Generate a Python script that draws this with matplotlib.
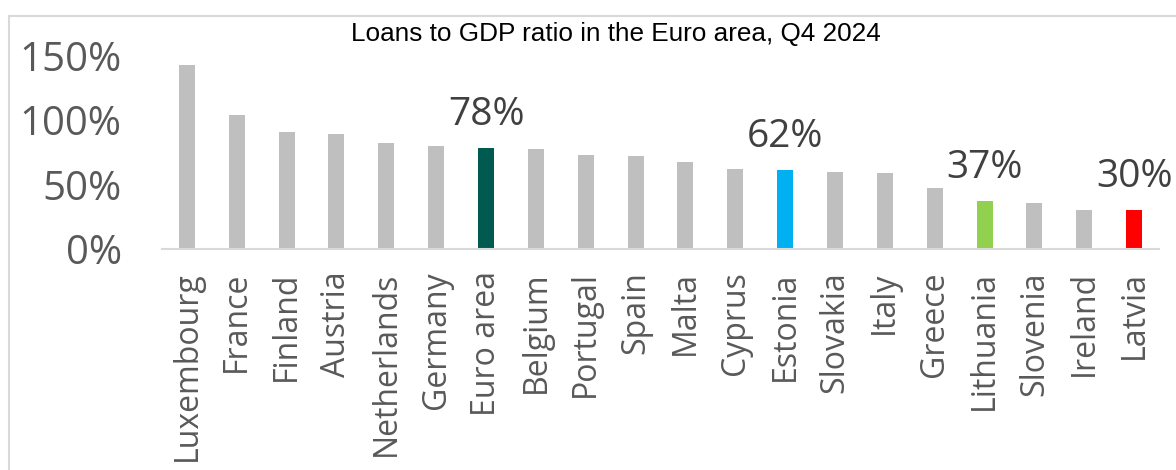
import matplotlib
matplotlib.use("Agg")
import matplotlib.pyplot as plt
from matplotlib.patches import Rectangle
from matplotlib.ticker import FixedLocator, FuncFormatter

countries = ["Luxembourg", "France", "Finland", "Austria", "Netherlands", "Germany",
             "Euro area", "Belgium", "Portugal", "Spain", "Malta", "Cyprus", "Estonia",
             "Slovakia", "Italy", "Greece", "Lithuania", "Slovenia", "Ireland", "Latvia"]
values = [142.5, 103.5, 90.5, 89.0, 82.5, 79.5, 78.0, 77.5, 73.0, 72.0, 67.5, 62.0, 61.5,
          59.8, 59.0, 47.0, 37.0, 35.8, 30.5, 30.0]
highlight = {"Euro area": ("#005a50", "78%"),
             "Estonia": ("#00b0f0", "62%"),
             "Lithuania": ("#92d050", "37%"),
             "Latvia": ("#ff0000", "30%")}
yticks = [0, 50, 100, 150]
title = "Loans to GDP ratio in the Euro area, Q4 2024"

W, H = 1176, 470
fig = plt.figure(figsize=(W / 100, H / 100), dpi=100)

# outer frame
fig.patches.append(Rectangle((9 / W, -0.1), 1.2, 1 - 16 / H + 0.1, transform=fig.transFigure,
                             fill=False, edgecolor="#d9d9d9", linewidth=1.5, zorder=0))

ax = fig.add_axes([162 / W, (H - 249) / H, 997 / W, (249 - 55.5) / H])
colors = [highlight[c][0] if c in highlight else "#bfbfbf" for c in countries]
x = list(range(len(countries)))
ax.bar(x, values, width=0.32, color=colors, zorder=2)

for i, c in enumerate(countries):
    if c in highlight:
        ax.annotate(highlight[c][1], (i, values[i]), xytext=(0, 16.5),
                    textcoords="offset points", ha="center", va="baseline",
                    fontsize=28, family="Open Sans", color="#404040")

ax.set_xlim(-0.5, len(countries) - 0.5)
ax.set_ylim(0, 150)
ax.yaxis.set_major_locator(FixedLocator(yticks))
ax.yaxis.set_major_formatter(FuncFormatter(lambda v, p: f"{v:.0f}%"))
ax.set_xticks(x)
ax.set_xticklabels(countries, rotation=90, fontsize=23, family="Open Sans", color="#595959")
for lab in ax.get_yticklabels():
    lab.set_family("Open Sans")
    lab.set_fontsize(29)
    lab.set_color("#595959")
ax.tick_params(axis="both", length=0)
ax.tick_params(axis="y", pad=29)
ax.tick_params(axis="x", pad=16)
for s in ["top", "right", "left"]:
    ax.spines[s].set_visible(False)
ax.spines["bottom"].set_color("#d9d9d9")
ax.spines["bottom"].set_linewidth(1.5)
ax.patch.set_alpha(0)

fig.text(615.5 / W, 1 - 41.5 / H, title, ha="center", va="baseline",
         fontsize=18.8, family="Liberation Sans", color="black")

fig.savefig("out.png", dpi=100)
